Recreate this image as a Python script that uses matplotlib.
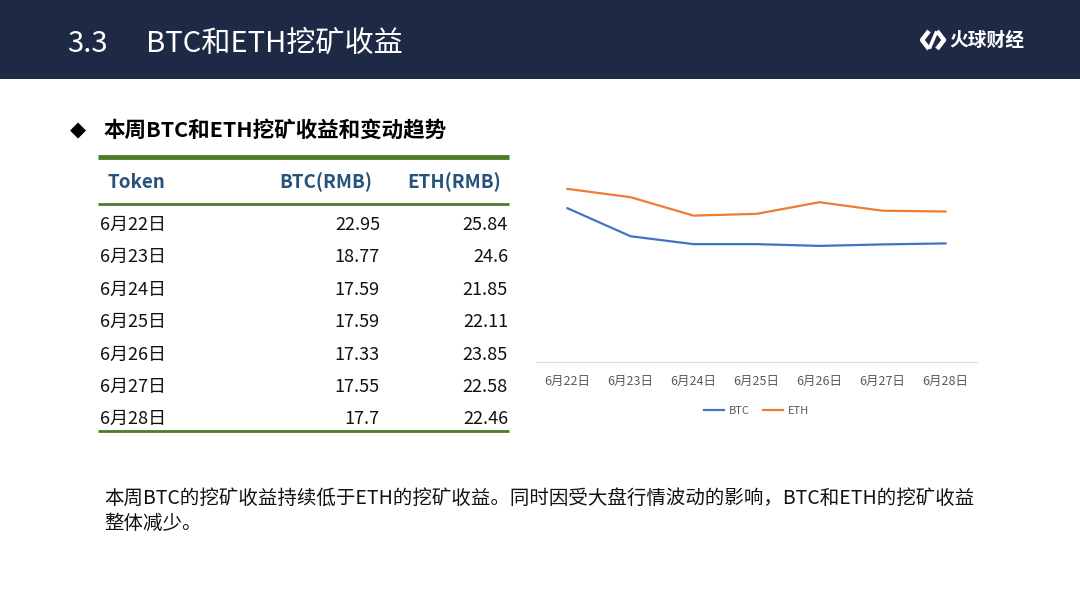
import matplotlib
matplotlib.use('Agg')
import matplotlib.pyplot as plt
import matplotlib.patches as patches

plt.rcParams['font.family'] = ['Noto Sans CJK SC', 'DejaVu Sans']

# data
dates = ['6月22日', '6月23日', '6月24日', '6月25日', '6月26日', '6月27日', '6月28日']
btc = [22.95, 18.77, 17.59, 17.59, 17.33, 17.55, 17.7]
eth = [25.84, 24.6, 21.85, 22.11, 23.85, 22.58, 22.46]
btc_txt = ['22.95', '18.77', '17.59', '17.59', '17.33', '17.55', '17.7']
eth_txt = ['25.84', '24.6', '21.85', '22.11', '23.85', '22.58', '22.46']
headers = ['Token', 'BTC(RMB)', 'ETH(RMB)']

section = '3.3'
title = 'BTC和ETH挖矿收益'
subtitle = '本周BTC和ETH挖矿收益和变动趋势'
note1 = '本周BTC的挖矿收益持续低于ETH的挖矿收益。同时因受大盘行情波动的影响，BTC和ETH的挖矿收益'
note2 = '整体减少。'

NAVY = '#1e2a45'
GREEN = '#4e7a2a'
BLUE_HDR = '#27527a'
BTC_C = '#4472c4'
ETH_C = '#ed7d31'

W, H = 1080, 608
fig = plt.figure(figsize=(W / 100, H / 100), dpi=100)
fig.patch.set_facecolor('white')

# background axes in pixel coordinates
bg = fig.add_axes([0, 0, 1, 1])
bg.set_xlim(0, W)
bg.set_ylim(H, 0)
bg.axis('off')

# header band
bg.add_patch(patches.Rectangle((0, 0), W, 79, facecolor=NAVY, edgecolor='none'))
bg.text(67, 44, section, color='white', fontsize=21, va='center', ha='left')
bg.text(146, 44, title, color='white', fontsize=21, va='center', ha='left')

# logo
bg.plot([929, 922, 929], [31, 40, 49], color='white', lw=3.2, solid_capstyle='butt')
bg.plot([937, 944, 937], [31, 40, 49], color='white', lw=3.2, solid_capstyle='butt')
bg.plot([936, 930], [33, 47], color='white', lw=2.5)
bg.text(949, 40, '火球财经', color='white', fontsize=13.5, fontweight='bold',
        va='center', ha='left')

# subtitle
bg.text(78, 130, '◆', fontsize=15, va='center', ha='center', color='black',
        family=['DejaVu Sans'])
bg.text(103, 130, subtitle, fontsize=15.5, fontweight='bold', va='center', ha='left')

# table
x0, x1 = 98, 509
bg.plot([x0, x1], [157, 157], color=GREEN, lw=3.5, solid_capstyle='butt')
bg.plot([x0, x1], [204, 204], color=GREEN, lw=2, solid_capstyle='butt')
bg.plot([x0, x1], [431, 431], color=GREEN, lw=2, solid_capstyle='butt')

bg.text(107, 182, headers[0], color=BLUE_HDR, fontsize=13.5, fontweight='bold',
        va='center', ha='left')
bg.text(372, 182, headers[1], color=BLUE_HDR, fontsize=13.5, fontweight='bold',
        va='center', ha='right')
bg.text(501, 182, headers[2], color=BLUE_HDR, fontsize=13.5, fontweight='bold',
        va='center', ha='right')

row_y0, row_dy = 225, 32.4
for i, d in enumerate(dates):
    y = row_y0 + i * row_dy
    bg.text(100, y, d, fontsize=13, va='center', ha='left', color='#111111')
    bg.text(380, y, btc_txt[i], fontsize=13, va='center', ha='right', color='#111111')
    bg.text(508, y, eth_txt[i], fontsize=13, va='center', ha='right', color='#111111')

# bottom note
bg.text(104, 498, note1, fontsize=14, va='center', ha='left', color='#111111')
bg.text(104, 523, note2, fontsize=14, va='center', ha='left', color='#111111')

# line chart
ax = fig.add_axes([536 / W, 1 - 362 / H, (977 - 536) / W, (362 - 161) / H])
xs = range(len(dates))
ax.plot(xs, btc, color=BTC_C, lw=1.6, label='BTC')
ax.plot(xs, eth, color=ETH_C, lw=1.6, label='ETH')
ax.set_xlim(-0.5, len(dates) - 0.5)
ax.set_ylim(0, 30)
ax.set_xticks(list(xs))
ax.set_xticklabels(dates, fontsize=9, color='#595959')
ax.tick_params(axis='x', length=0, pad=9)
ax.set_yticks([])
for s in ['top', 'right', 'left']:
    ax.spines[s].set_visible(False)
ax.spines['bottom'].set_color('#d9d9d9')
ax.spines['bottom'].set_linewidth(0.8)
ax.patch.set_alpha(0)
leg = ax.legend(loc='upper center', bbox_to_anchor=(0.5, -0.17), ncol=2,
                frameon=False, fontsize=8, handlelength=1.8, columnspacing=1.2,
                handletextpad=0.4)
for t in leg.get_texts():
    t.set_color('#595959')

fig.savefig('out.png', dpi=100, facecolor='white')
